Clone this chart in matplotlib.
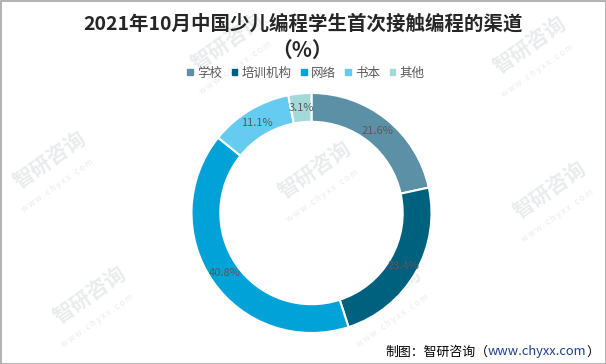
import matplotlib
matplotlib.use("Agg")
import matplotlib.pyplot as plt
from matplotlib.patches import Rectangle

plt.rcParams['font.family'] = ['Noto Sans CJK SC', 'DejaVu Sans']

categories = ['学校', '培训机构', '网络', '书本', '其他']
values = [21.6, 23.4, 40.8, 11.1, 3.1]
colors = ['#5b90a6', '#00617f', '#00a2d8', '#66cbf0', '#a3d9d9']
title_line1 = '2021年10月中国少儿编程学生首次接触编程的渠道'
title_line2 = '（%）'

fig = plt.figure(figsize=(6.06, 3.64), dpi=100)
fig.patch.set_facecolor('white')

# watermarks
wm_positions = [(228, 42), (530, 45), (50, 160), (315, 170), (550, 190), (90, 295), (385, 295)]
for (px, py) in wm_positions:
    fx, fy = px / 606, 1 - py / 364
    fig.text(fx, fy, '智研咨询', fontsize=15, color='#e9ebee', rotation=35,
             ha='center', va='center', zorder=0, fontweight='bold')
    fig.text(fx + 0.012, fy - 0.072, 'w w w . c h y x x . c o m', fontsize=6,
             color='#e9ebee', rotation=35, ha='center', va='center', zorder=0)

cx, cy, r = 311.5, 213, 120
ax = fig.add_axes([(cx - r) / 606, (364 - cy - r) / 364, 2 * r / 606, 2 * r / 364])
ax.set_zorder(2)
ax.patch.set_alpha(0)
wedges, texts, autotexts = ax.pie(
    values, colors=colors, startangle=90, counterclock=False,
    autopct=lambda p: f'{p:.1f}%', pctdistance=0.88, radius=1,
    wedgeprops=dict(width=0.24, edgecolor='white', linewidth=1.5),
    textprops=dict(color='#595959', fontsize=8))
ax.set_xlim(-1, 1)
ax.set_ylim(-1, 1)
ax.set_aspect('auto')
ax.axis('off')

fig.text(303 / 606, 1 - 24 / 364, title_line1, ha='center', va='center',
         fontsize=14, fontweight='bold', color='#262626')
fig.text(302 / 606, 1 - 50 / 364, title_line2, ha='center', va='center',
         fontsize=15, fontweight='bold', color='#262626')

handles = [Rectangle((0, 0), 1, 1, color=c) for c in colors]
leg = fig.legend(handles, categories, loc='center', bbox_to_anchor=(306 / 606, 1 - 73 / 364),
                 ncol=5, frameon=False, fontsize=9, handlelength=0.45, handleheight=0.45,
                 handletextpad=0.35, columnspacing=0.75, labelcolor='#595959')

# footer
fy_footer = 1 - 352 / 364
t1 = fig.text(385 / 606, fy_footer, '制图：智研咨询（', fontsize=9.3, color='black',
              ha='left', va='center')
t2 = fig.text(0, 0, 'www.chyxx.com', fontsize=9.3, color='#1f3f8f')
t3 = fig.text(0, 0, '）', fontsize=9.3, color='black')
fig.canvas.draw()
renderer = fig.canvas.get_renderer()
bb1 = t1.get_window_extent(renderer).transformed(fig.transFigure.inverted())
t2.set_position((bb1.x1, fy_footer))
t2.set_va('center')
fig.canvas.draw()
bb2 = t2.get_window_extent(renderer).transformed(fig.transFigure.inverted())
t3.set_position((bb2.x1, fy_footer))
t3.set_va('center')

# border
fig.add_artist(Rectangle((0.5 / 606, 0.5 / 364), 1 - 1 / 606, 1 - 1 / 364, transform=fig.transFigure,
                         fill=False, edgecolor='#a6a6a6', linewidth=1.2))

fig.savefig('out.png', dpi=100)
